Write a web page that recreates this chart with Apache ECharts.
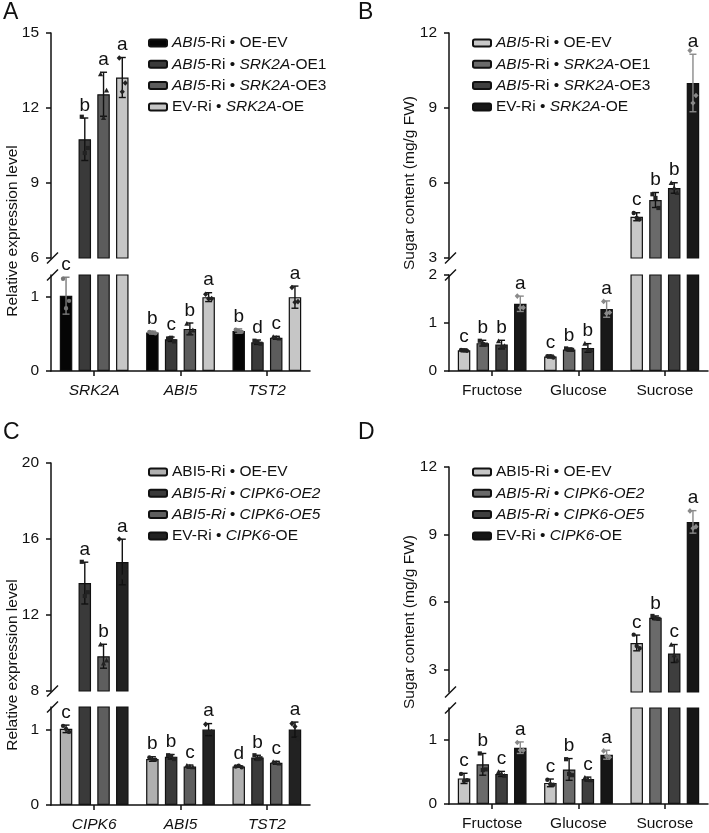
<!DOCTYPE html>
<html><head><meta charset="utf-8">
<script src="https://cdn.jsdelivr.net/npm/echarts@6/dist/echarts.min.js"></script>
<style>
html,body{margin:0;padding:0;background:#fff;}
body{width:709px;height:833px;position:relative;overflow:hidden;}
.p{position:absolute;}
</style></head><body>
<div id="A" class="p" style="left:0;top:0;width:355px;height:420px"></div>
<div id="B" class="p" style="left:355px;top:0;width:354px;height:420px"></div>
<div id="C" class="p" style="left:0;top:420px;width:355px;height:413px"></div>
<div id="D" class="p" style="left:355px;top:420px;width:354px;height:413px"></div>
<script>
// ---------- Panel A ----------
const catsA = ['SRK2A', 'ABI5', 'TST2'];
const namesA = ['ABI5-Ri • OE-EV', 'ABI5-Ri • SRK2A-OE1', 'ABI5-Ri • SRK2A-OE3', 'EV-Ri • SRK2A-OE'];
const valA0 = [1.02, 0.52, 0.54];  const errA0 = [0.25, 0.02, 0.03]; const letA0 = ['c', 'b', 'b'];
const valA1 = [10.75, 0.43, 0.39]; const errA1 = [0.85, 0.03, 0.03]; const letA1 = ['b', 'c', 'd'];
const valA2 = [12.55, 0.57, 0.45]; const errA2 = [0.88, 0.08, 0.02]; const letA2 = ['a', 'b', 'c'];
const valA3 = [13.22, 1.0, 1.0];   const errA3 = [0.80, 0.06, 0.15]; const letA3 = ['a', 'a', 'a'];
const repA0 = [[1.25, 0.95, 0.85], [0.53, 0.51, 0.52], [0.56, 0.53, 0.54]];
const repA1 = [[11.65, 10.4, 10.2], [0.44, 0.40, 0.45], [0.41, 0.37, 0.39]];
const repA2 = [[13.35, 12.7, 11.6], [0.64, 0.55, 0.52], [0.46, 0.44, 0.45]];
const repA3 = [[14.0, 13.0, 12.65], [1.04, 0.98, 0.98], [1.13, 0.94, 0.93]];
const ticksA_up = [6, 9, 12, 15];
const ticksA_low = [0, 1];

// ---------- Panel B ----------
const catsB = ['Fructose', 'Glucose', 'Sucrose'];
const namesB = ['ABI5-Ri • OE-EV', 'ABI5-Ri • SRK2A-OE1', 'ABI5-Ri • SRK2A-OE3', 'EV-Ri • SRK2A-OE'];
const valB0 = [0.43, 0.30, 4.65];  const errB0 = [0.03, 0.03, 0.16]; const letB0 = ['c', 'c', 'c'];
const valB1 = [0.58, 0.45, 5.32];  const errB1 = [0.06, 0.03, 0.30]; const letB1 = ['b', 'b', 'b'];
const valB2 = [0.55, 0.48, 5.80];  const errB2 = [0.09, 0.09, 0.21]; const letB2 = ['b', 'b', 'b'];
const valB3 = [1.40, 1.29, 10.0];  const errB3 = [0.16, 0.17, 1.15]; const letB3 = ['a', 'a', 'a'];
const repB0 = [[0.44, 0.42, 0.43], [0.31, 0.28, 0.31], [4.8, 4.55, 4.6]];
const repB1 = [[0.63, 0.55, 0.56], [0.47, 0.44, 0.44], [5.55, 5.0, 5.4]];
const repB2 = [[0.62, 0.52, 0.51], [0.57, 0.43, 0.44], [6.0, 5.6, 5.8]];
const repB3 = [[1.56, 1.32, 1.32], [1.45, 1.22, 1.2], [11.3, 9.5, 9.2]];
const ticksB_up = [3, 6, 9, 12];
const ticksB_low = [0, 1, 2];

// ---------- Panel C ----------
const catsC = ['CIPK6', 'ABI5', 'TST2'];
const namesC = ['ABI5-Ri • OE-EV', 'ABI5-Ri • CIPK6-OE2', 'ABI5-Ri • CIPK6-OE5', 'EV-Ri • CIPK6-OE'];
const valC0 = [1.01, 0.61, 0.51];  const errC0 = [0.05, 0.03, 0.01]; const letC0 = ['c', 'b', 'd'];
const valC1 = [13.68, 0.64, 0.63]; const errC1 = [1.10, 0.03, 0.03]; const letC1 = ['a', 'b', 'b'];
const valC2 = [9.83, 0.51, 0.56];  const errC2 = [0.63, 0.02, 0.02]; const letC2 = ['b', 'c', 'c'];
const valC3 = [14.79, 1.0, 1.0];   const errC3 = [1.20, 0.08, 0.10]; const letC3 = ['a', 'a', 'a'];
const repC0 = [[1.05, 0.97, 1.01], [0.63, 0.60, 0.60], [0.51, 0.50, 0.52]];
const repC1 = [[14.8, 13.2, 13.0], [0.66, 0.61, 0.65], [0.66, 0.62, 0.61]];
const repC2 = [[10.45, 9.6, 9.45], [0.52, 0.50, 0.51], [0.57, 0.55, 0.56]];
const repC3 = [[16.0, 14.4, 14.0], [1.07, 0.97, 0.96], [1.08, 0.88, 1.04]];
const ticksC_up = [8, 12, 16, 20];
const ticksC_low = [0, 1];

// ---------- Panel D ----------
const catsD = ['Fructose', 'Glucose', 'Sucrose'];
const namesD = ['ABI5-Ri • OE-EV', 'ABI5-Ri • CIPK6-OE2', 'ABI5-Ri • CIPK6-OE5', 'EV-Ri • CIPK6-OE'];
const valD0 = [0.40, 0.33, 4.18];  const errD0 = [0.08, 0.06, 0.35]; const letD0 = ['c', 'c', 'c'];
const valD1 = [0.62, 0.54, 5.30];  const errD1 = [0.17, 0.17, 0.08]; const letD1 = ['b', 'b', 'b'];
const valD2 = [0.47, 0.39, 3.71];  const errD2 = [0.04, 0.03, 0.40]; const letD2 = ['c', 'c', 'c'];
const valD3 = [0.88, 0.77, 9.56];  const errD3 = [0.09, 0.07, 0.50]; const letD3 = ['a', 'a', 'a'];
const repD0 = [[0.47, 0.37, 0.36], [0.38, 0.30, 0.31], [4.55, 3.95, 4.05]];
const repD1 = [[0.79, 0.54, 0.53], [0.70, 0.45, 0.47], [5.38, 5.25, 5.27]];
const repD2 = [[0.50, 0.44, 0.47], [0.41, 0.37, 0.39], [4.1, 3.4, 3.63]];
const repD3 = [[0.96, 0.84, 0.84], [0.83, 0.73, 0.75], [10.05, 9.35, 9.28]];
const ticksD_up = [3, 6, 9, 12];
const ticksD_low = [0, 1];

const FONT = '"Liberation Sans", Arial, Helvetica, sans-serif';
const BAR_W = 12.5, BAR_GAP = 6.25;
const OFFS = [0, 1, 2, 3].map(s => -(4 * BAR_W + 3 * BAR_GAP) / 2 + BAR_W / 2 + s * (BAR_W + BAR_GAP));
const DOT_DX = [-3, 3, 0];

function legendFmtSRK(name) {
  return {
    'ABI5-Ri • OE-EV': '{i|ABI5}{n|-Ri • OE-EV}',
    'ABI5-Ri • SRK2A-OE1': '{i|ABI5}{n|-Ri • }{i|SRK2A}{n|-OE1}',
    'ABI5-Ri • SRK2A-OE3': '{i|ABI5}{n|-Ri • }{i|SRK2A}{n|-OE3}',
    'EV-Ri • SRK2A-OE': '{n|EV-Ri • }{i|SRK2A}{n|-OE}'
  }[name];
}
function legendFmtCIPK(name) {
  return {
    'ABI5-Ri • OE-EV': '{n|ABI5-Ri • OE-EV}',
    'ABI5-Ri • CIPK6-OE2': '{i|ABI5-Ri • CIPK6-OE2}',
    'ABI5-Ri • CIPK6-OE5': '{i|ABI5-Ri • CIPK6-OE5}',
    'EV-Ri • CIPK6-OE': '{n|EV-Ri • }{i|CIPK6}{n|-OE}'
  }[name];
}

function dotShape(s, x, y, col) {
  const st = { fill: col, stroke: null };
  if (s === 0) return { type: 'circle', shape: { cx: x, cy: y, r: 2.2 }, style: st };
  if (s === 1) return { type: 'rect', shape: { x: x - 2.1, y: y - 2.1, width: 4.2, height: 4.2 }, style: st };
  if (s === 2) return { type: 'polygon', shape: { points: [[x, y - 2.8], [x + 2.6, y + 2], [x - 2.6, y + 2]] }, style: st };
  return { type: 'polygon', shape: { points: [[x, y - 2.8], [x + 2.6, y], [x, y + 2.8], [x - 2.6, y]] }, style: st };
}

function build(cfg) {
  const grids = [
    { left: cfg.left, width: 259, top: cfg.up.top, height: cfg.up.h },
    { left: cfg.left, width: 259, top: cfg.low.top, height: cfg.low.h }
  ];
  const yAx = (r, ticks) => ({
    type: 'value', min: r.min, max: r.max, gridIndex: r.g,
    axisLine: { show: true, lineStyle: { color: '#111', width: 1.5 } },
    axisTick: { show: true, inside: false, length: 5, lineStyle: { color: '#111', width: 1.5 }, customValues: ticks },
    axisLabel: { show: true, fontSize: 15.5, color: '#111', fontFamily: FONT, margin: 12, customValues: ticks },
    splitLine: { show: false }
  });
  const xAxis = [
    { type: 'category', gridIndex: 0, data: cfg.cats, show: false },
    { type: 'category', gridIndex: 1, data: cfg.cats,
      axisLine: { show: true, lineStyle: { color: '#111', width: 1.5 } },
      axisTick: { show: true, alignWithLabel: true, length: 5, lineStyle: { color: '#111', width: 1.5 } },
      axisLabel: { fontSize: 15.5, color: '#111', fontFamily: FONT, margin: 12, fontStyle: cfg.italicCats ? 'italic' : 'normal' } }
  ];
  const yAxis = [
    yAx({ min: cfg.up.min, max: cfg.up.max, g: 0 }, cfg.up.ticks),
    yAx({ min: 0, max: cfg.low.max, g: 1 }, cfg.low.ticks)
  ];
  const series = [];
  for (let g = 1; g >= 0; g--) {
    for (let s = 0; s < 4; s++) {
      series.push({
        type: 'bar', name: cfg.names[s], xAxisIndex: g, yAxisIndex: g,
        data: cfg.vals[s], barWidth: BAR_W, barGap: (BAR_GAP / BAR_W * 100) + '%', clip: true,
        itemStyle: { color: cfg.colors[s], borderColor: '#111', borderWidth: 1.2 },
        silent: true, animation: false
      });
    }
  }
  for (let g = 0; g < 2; g++) {
    for (let s = 0; s < 4; s++) {
      const isLower = g === 1;
      series.push({
        type: 'custom', xAxisIndex: g, yAxisIndex: g, z: 10, clip: false, silent: true, animation: false,
        data: cfg.vals[s].map((v, i) => [i, v, cfg.errs[s][i], cfg.reps[s][i][0], cfg.reps[s][i][1], cfg.reps[s][i][2]]),
        renderItem: function (params, api) {
          const i = api.value(0), v = api.value(1), e = api.value(2);
          if ((v <= cfg.low.max) !== isLower) return { type: 'group', children: [] };
          const c = api.coord([i, v]);
          const x = c[0] + OFFS[s];
          const yT = api.coord([i, v + e])[1];
          const yB = api.coord([i, v - e])[1];
          const col = cfg.errColors[s];
          const hw = 3.5;
          const st = { stroke: col, lineWidth: 1.4 };
          const kids = [
            { type: 'line', shape: { x1: x, y1: yT, x2: x, y2: yB }, style: st },
            { type: 'line', shape: { x1: x - hw, y1: yT, x2: x + hw, y2: yT }, style: st },
            { type: 'line', shape: { x1: x - hw, y1: yB, x2: x + hw, y2: yB }, style: st }
          ];
          for (let r = 0; r < 3; r++) {
            const yy = api.coord([i, api.value(3 + r)])[1];
            kids.push(dotShape(s, x + DOT_DX[r], yy, cfg.dotColors[s]));
          }
          kids.push({ type: 'text', style: { text: cfg.lets[s][params.dataIndex], x: x, y: yT - 3, textAlign: 'center', textVerticalAlign: 'bottom', fontSize: 19, fontFamily: FONT, fill: '#111' } });
          return { type: 'group', children: kids };
        }
      });
    }
  }
  const ax = cfg.left;
  const upBot = cfg.up.top + cfg.up.h;
  const lowTop = cfg.low.top;
  const slash = (y) => ({ type: 'line', shape: { x1: ax - 4, y1: y + 5.5, x2: ax + 7, y2: y - 5.5 }, style: { stroke: '#111', lineWidth: 1.4 }, silent: true });
  return {
    animation: false,
    grid: grids, xAxis, yAxis, series,
    legend: {
      data: cfg.names, orient: 'vertical', left: cfg.legLeft, top: cfg.legTop, padding: 0,
      itemWidth: 18, itemHeight: 7, itemGap: 5.3, selectedMode: false,
      formatter: cfg.legFmt,
      textStyle: { fontSize: 15.5, fontFamily: FONT, color: '#111', lineHeight: 16,
        rich: { i: { fontStyle: 'italic', fontSize: 15.5, fontFamily: FONT, color: '#111', lineHeight: 16 },
                n: { fontStyle: 'normal', fontSize: 15.5, fontFamily: FONT, color: '#111', lineHeight: 16 } } }
    },
    graphic: [
      { type: 'text', left: 3, top: 1, style: { text: cfg.letter, fontSize: 23, fontFamily: FONT, fill: '#111' } },
      { type: 'text', x: cfg.titleX, y: cfg.titleY, rotation: Math.PI / 2,
        style: { text: cfg.ytitle, fontSize: 15.5, fontFamily: FONT, fill: '#111', textAlign: 'center', textVerticalAlign: 'middle' } },
      slash(upBot), slash(lowTop)
    ]
  };
}

const panels = {
  A: { letter: 'A', cats: catsA, names: namesA, italicCats: true,
       vals: [valA0, valA1, valA2, valA3], errs: [errA0, errA1, errA2, errA3], lets: [letA0, letA1, letA2, letA3],
       reps: [repA0, repA1, repA2, repA3],
       colors: ['#050505', '#3a3a3a', '#5c5c5c', '#c6c6c6'], errColors: ['#7a7a7a', '#111', '#111', '#111'],
       dotColors: ['#777', '#222', '#222', '#222'],
       left: 51, up: { top: 33, h: 225, min: 6, max: 15, ticks: ticksA_up }, low: { top: 275, h: 96, max: 1.3, ticks: ticksA_low },
       legLeft: 148, legTop: 35, legFmt: legendFmtSRK, ytitle: 'Relative expression level', titleX: 13, titleY: 231 },
  B: { letter: 'B', cats: catsB, names: namesB, italicCats: false,
       vals: [valB0, valB1, valB2, valB3], errs: [errB0, errB1, errB2, errB3], lets: [letB0, letB1, letB2, letB3],
       reps: [repB0, repB1, repB2, repB3],
       colors: ['#c8c8c8', '#6a6a6a', '#3e3e3e', '#181818'], errColors: ['#111', '#111', '#111', '#8a8a8a'],
       dotColors: ['#222', '#222', '#222', '#8a8a8a'],
       left: 94, up: { top: 33, h: 225, min: 3, max: 12, ticks: ticksB_up }, low: { top: 275, h: 96, max: 2, ticks: ticksB_low },
       legLeft: 117, legTop: 35, legFmt: legendFmtSRK, ytitle: 'Sugar content (mg/g FW)', titleX: 55, titleY: 183 },
  C: { letter: 'C', cats: catsC, names: namesC, italicCats: true,
       vals: [valC0, valC1, valC2, valC3], errs: [errC0, errC1, errC2, errC3], lets: [letC0, letC1, letC2, letC3],
       reps: [repC0, repC1, repC2, repC3],
       colors: ['#b0b0b0', '#3a3a3a', '#5e5e5e', '#222222'], errColors: ['#111', '#111', '#111', '#111'],
       dotColors: ['#222', '#222', '#222', '#222'],
       left: 51, up: { top: 43, h: 228, min: 8, max: 20, ticks: ticksC_up }, low: { top: 287, h: 99, max: 1.3, ticks: ticksC_low },
       legLeft: 148, legTop: 44, legFmt: legendFmtCIPK, ytitle: 'Relative expression level', titleX: 13, titleY: 245 },
  D: { letter: 'D', cats: catsD, names: namesD, italicCats: false,
       vals: [valD0, valD1, valD2, valD3], errs: [errD0, errD1, errD2, errD3], lets: [letD0, letD1, letD2, letD3],
       reps: [repD0, repD1, repD2, repD3],
       colors: ['#c6c6c6', '#6a6a6a', '#3e3e3e', '#161616'], errColors: ['#111', '#111', '#111', '#8a8a8a'],
       dotColors: ['#222', '#222', '#222', '#8a8a8a'],
       left: 94, up: { top: 47, h: 225, min: 2, max: 12, ticks: ticksD_up }, low: { top: 288, h: 96, max: 1.5, ticks: ticksD_low },
       legLeft: 117, legTop: 44, legFmt: legendFmtCIPK, ytitle: 'Sugar content (mg/g FW)', titleX: 55, titleY: 202 }
};

for (const k of ['A', 'B', 'C', 'D']) {
  const chart = echarts.init(document.getElementById(k), null, { renderer: 'canvas' });
  chart.setOption(build(panels[k]));
}
</script>
</body></html>
